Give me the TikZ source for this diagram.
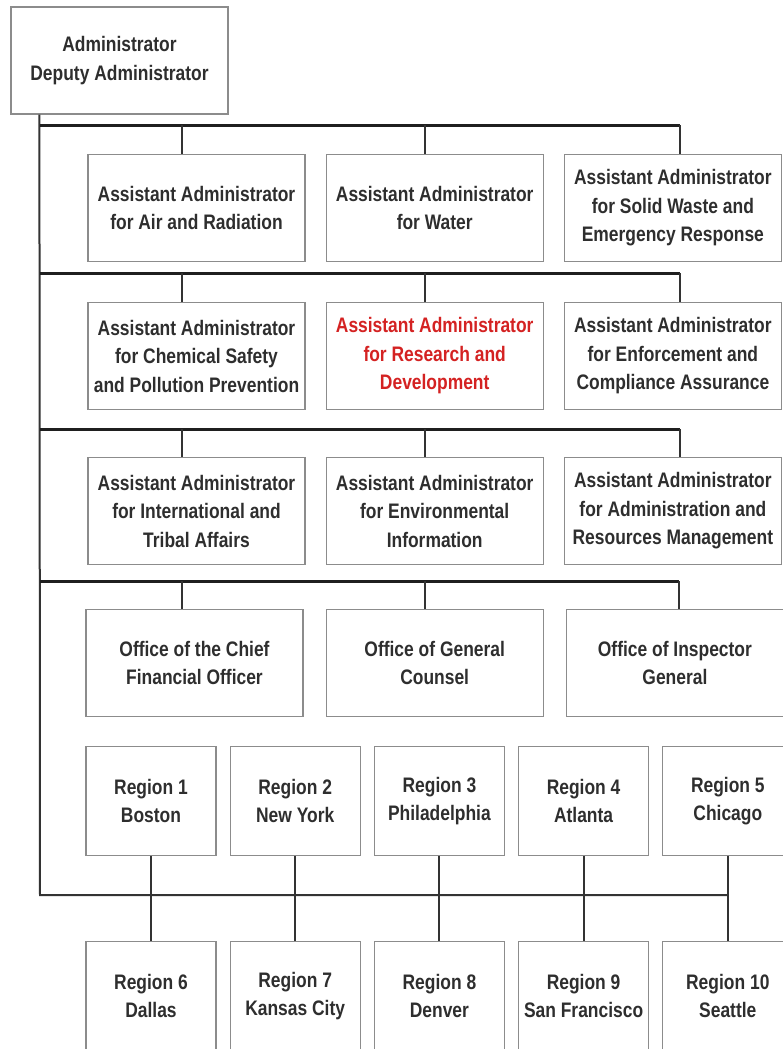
\documentclass[tikz,border=0pt]{standalone}
\usepackage{fontspec}
\newfontfamily\orgfont{Liberation Sans}[FakeStretch=0.83]
\usetikzlibrary{positioning}
\definecolor{inkgray}{HTML}{2E2E2E}
\definecolor{rdred}{HTML}{D42222}

\begin{document}
\begin{tikzpicture}[x=1pt, y=-1pt, node distance=20pt,
    office/.style = {draw=black!45, line width=1.2pt, minimum width=217pt, minimum height=107pt,
      inner sep=0pt, align=center, text=inkgray, font=\orgfont\bfseries\fontsize{21}{28.5}\selectfont},
    region/.style = {office, minimum width=130pt, minimum height=109pt},
    bus/.style = {draw=black!88, line width=3pt},
    link/.style = {draw=black!80, line width=2pt}]
  \useasboundingbox (0,0) rectangle (783,1049);
  \clip (0,0) rectangle (783,1049);
  % Nodes
  \node[office] (admin) at (119.5,60.5) {Administrator\\Deputy Administrator};
  \node[office] (air) at (196.5,208) {Assistant Administrator\\for Air and Radiation};
  \node[office] (water) [right=20pt of air] {Assistant Administrator\\for Water};
  \node[office] (waste) [right=20pt of water] {Assistant Administrator\\for Solid Waste and\\Emergency Response};
  \node[office] (chem) at (196.5,356) {Assistant Administrator\\for Chemical Safety\\and Pollution Prevention};
  \node[office, text=rdred] (rd) [right=20pt of chem] {Assistant Administrator\\for Research and\\Development};
  \node[office] (enf) [right=20pt of rd] {Assistant Administrator\\for Enforcement and\\Compliance Assurance};
  \node[office] (intl) at (196.5,511) {Assistant Administrator\\for International and\\Tribal Affairs};
  \node[office] (envinfo) [right=20pt of intl] {Assistant Administrator\\for Environmental\\Information};
  \node[office] (arm) [right=20pt of envinfo] {Assistant Administrator\\for Administration and\\Resources Management};
  \node[office] (cfo) at (194.5,663) {Office of the Chief\\Financial Officer};
  \node[office] (ogc) [right=22pt of cfo] {Office of General\\Counsel};
  \node[office] (oig) [right=22pt of ogc] {Office of Inspector\\General};
  \node[region] (r1) at (151,801) {Region 1\\Boston};
  \node[region] (r2) [right=13pt of r1] {Region 2\\New York};
  \node[region] (r3) [right=13pt of r2] {Region 3\\Philadelphia};
  \node[region] (r4) [right=13pt of r3] {Region 4\\Atlanta};
  \node[region] (r5) [right=13pt of r4] {Region 5\\Chicago};
  \node[region] (r6) [below=85pt of r1] {Region 6\\Dallas};
  \node[region] (r7) [right=13pt of r6] {Region 7\\Kansas City};
  \node[region] (r8) [right=13pt of r7] {Region 8\\Denver};
  \node[region] (r9) [right=13pt of r8] {Region 9\\San Francisco};
  \node[region] (r10) [right=13pt of r9] {Region 10\\Seattle};
  % Bus points on the trunk
  \coordinate (bus1) at (40,125);
  \coordinate (bus2) at (40,273);
  \coordinate (bus3) at (40,429);
  \coordinate (bus4) at (40,581);
  \coordinate (foot) at (40,895);
  % Edges
  \draw[link] ([xshift=29pt]admin.south west) -- (foot) -- (r5.south |- foot);
  \draw[bus] (bus1) -- ([xshift=7.5pt]waste.north |- bus1);
  \draw[link] ([xshift=-14.5pt]air.north) -- ([xshift=-14.5pt]air.north |- bus1);
  \draw[link] ([xshift=-9.5pt]water.north) -- ([xshift=-9.5pt]water.north |- bus1);
  \draw[link] ([xshift=7.5pt]waste.north) -- ([xshift=7.5pt]waste.north |- bus1);
  \draw[bus] (bus2) -- ([xshift=7.5pt]enf.north |- bus2);
  \draw[link] ([xshift=-14.5pt]chem.north) -- ([xshift=-14.5pt]chem.north |- bus2);
  \draw[link] ([xshift=-9.5pt]rd.north) -- ([xshift=-9.5pt]rd.north |- bus2);
  \draw[link] ([xshift=7.5pt]enf.north) -- ([xshift=7.5pt]enf.north |- bus2);
  \draw[bus] (bus3) -- ([xshift=7.5pt]arm.north |- bus3);
  \draw[link] ([xshift=-14.5pt]intl.north) -- ([xshift=-14.5pt]intl.north |- bus3);
  \draw[link] ([xshift=-9.5pt]envinfo.north) -- ([xshift=-9.5pt]envinfo.north |- bus3);
  \draw[link] ([xshift=7.5pt]arm.north) -- ([xshift=7.5pt]arm.north |- bus3);
  \draw[bus] (bus4) -- ([xshift=4pt]oig.north |- bus4);
  \draw[link] ([xshift=-12.5pt]cfo.north) -- ([xshift=-12.5pt]cfo.north |- bus4);
  \draw[link] ([xshift=-10pt]ogc.north) -- ([xshift=-10pt]ogc.north |- bus4);
  \draw[link] ([xshift=4pt]oig.north) -- ([xshift=4pt]oig.north |- bus4);
  \draw[link] (r1.south) -- (r6.north);
  \draw[link] (r2.south) -- (r7.north);
  \draw[link] (r3.south) -- (r8.north);
  \draw[link] (r4.south) -- (r9.north);
  \draw[link] (r5.south) -- (r10.north);
\end{tikzpicture}
\end{document}
